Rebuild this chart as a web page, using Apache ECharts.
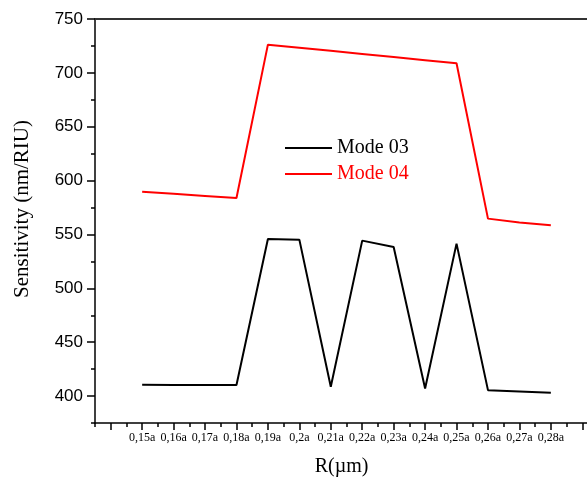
<!DOCTYPE html>
<html>
<head>
<meta charset="utf-8">
<script src="https://cdn.jsdelivr.net/npm/echarts@6/dist/echarts.min.js"></script>
<style>
  html, body { margin: 0; padding: 0; background: #fff; }
  #chart { width: 587px; height: 477px; }
</style>
</head>
<body>
<div id="chart"></div>
<script>
// Hole radius R (in units of the lattice constant a)
const rValues = [0.15, 0.16, 0.17, 0.18, 0.19, 0.20, 0.21, 0.22, 0.23, 0.24, 0.25, 0.26, 0.27, 0.28];
const tickLabels = ['0,15a', '0,16a', '0,17a', '0,18a', '0,19a', '0,2a', '0,21a', '0,22a', '0,23a', '0,24a', '0,25a', '0,26a', '0,27a', '0,28a'];

// Sensitivity (nm/RIU) for each mode
const mode03 = [410.5, 410.3, 410.2, 410.2, 545.8, 545.2, 408.7, 544.3, 538.4, 407.1, 541.5, 405.5, 404.3, 403.1];
const mode04 = [589.7, 587.8, 585.8, 583.8, 726.2, 723.4, 720.5, 717.6, 714.7, 711.8, 708.9, 564.7, 561.0, 558.5];

// Y axis ticks
const yMajor = [400, 450, 500, 550, 600, 650, 700, 750];
const yMinor = [375, 425, 475, 525, 575, 625, 675, 725];

const xMin = 0.135, xMax = 0.295;
const xMajor = [], xMinor = [];
for (let k = 14; k <= 29; k++) xMajor.push(k / 100);
for (let k = 27; k <= 58; k += 2) xMinor.push(k / 200);

const serif = '"Liberation Serif", "Times New Roman", serif';
const sans = '"Liberation Sans", Arial, sans-serif';

function labelFor(v) {
  for (let i = 0; i < rValues.length; i++) {
    if (Math.abs(rValues[i] - v) < 1e-6) return tickLabels[i];
  }
  return '';
}

const chart = echarts.init(document.getElementById('chart'), null, { renderer: 'canvas' });

chart.setOption({
  animation: false,
  backgroundColor: '#fff',
  grid: { left: 95, top: 19, right: -11, bottom: 54, containLabel: false, outerBoundsMode: 'none' },
  xAxis: [
    {
      type: 'value', min: xMin, max: xMax, position: 'bottom',
      axisLine: { show: true, onZero: false, lineStyle: { color: '#000', width: 1.5 } },
      axisTick: { show: true, customValues: xMajor, length: 7, lineStyle: { color: '#000', width: 1.5 } },
      axisLabel: {
        show: true, customValues: rValues, formatter: labelFor, margin: 9,
        fontFamily: serif, fontSize: 12, color: '#000'
      },
      splitLine: { show: false },
      name: 'R(µm)', nameLocation: 'middle', nameGap: 34,
      nameTextStyle: { fontFamily: serif, fontSize: 20, color: '#000', padding: [0, 10, 0, 0] }
    },
    {
      type: 'value', min: xMin, max: xMax, position: 'bottom',
      axisLine: { show: false },
      axisTick: { show: true, customValues: xMinor, length: 4, lineStyle: { color: '#000', width: 1.5 } },
      axisLabel: { show: false },
      splitLine: { show: false }
    },
    {
      type: 'value', min: xMin, max: xMax, position: 'top',
      axisLine: { show: true, onZero: false, lineStyle: { color: '#333', width: 2 } },
      axisTick: { show: false },
      axisLabel: { show: false },
      splitLine: { show: false }
    }
  ],
  yAxis: [
    {
      type: 'value', min: 375, max: 750, position: 'left',
      axisLine: { show: true, onZero: false, lineStyle: { color: '#000', width: 1.5 } },
      axisTick: { show: true, customValues: yMajor, length: 8, lineStyle: { color: '#000', width: 1.5 } },
      axisLabel: {
        show: true, customValues: yMajor, margin: 12,
        fontFamily: sans, fontSize: 17, color: '#000'
      },
      splitLine: { show: false }
    },
    {
      type: 'value', min: 375, max: 750, position: 'left',
      axisLine: { show: false },
      axisTick: { show: true, customValues: yMinor, length: 4, lineStyle: { color: '#000', width: 1.5 } },
      axisLabel: { show: false },
      splitLine: { show: false }
    }
  ],
  legend: {
    orient: 'vertical', left: 280, top: 133,
    itemWidth: 47, itemHeight: 2, itemGap: 6,
    textStyle: { fontFamily: serif, fontSize: 20, lineHeight: 20 },
    data: [
      { name: 'Mode 03', icon: 'rect', textStyle: { color: '#000' } },
      { name: 'Mode 04', icon: 'rect', textStyle: { color: '#ff0000' } }
    ]
  },
  graphic: [
    {
      type: 'text', x: 22, y: 209, rotation: Math.PI / 2,
      style: {
        text: 'Sensitivity (nm/RIU)', fontFamily: serif, fontSize: 21, fill: '#000',
        textAlign: 'center', textVerticalAlign: 'middle'
      }
    }
  ],
  series: [
    {
      name: 'Mode 03', type: 'line', xAxisIndex: 0, yAxisIndex: 0,
      data: rValues.map((r, i) => [r, mode03[i]]),
      symbol: 'none', color: '#000',
      lineStyle: { color: '#000', width: 2 }
    },
    {
      name: 'Mode 04', type: 'line', xAxisIndex: 0, yAxisIndex: 0,
      data: rValues.map((r, i) => [r, mode04[i]]),
      symbol: 'none', color: '#ff0000',
      lineStyle: { color: '#ff0000', width: 2 }
    }
  ]
});
</script>
</body>
</html>
